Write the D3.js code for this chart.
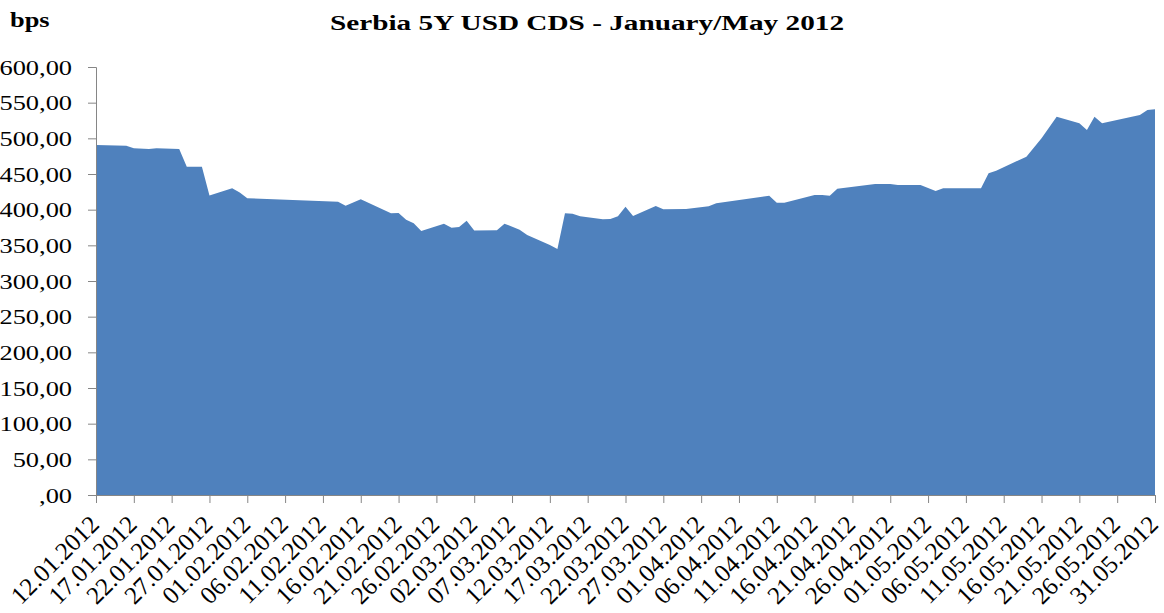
<!DOCTYPE html>
<meta charset="utf-8">
<style>
body { margin: 0; background: #fff; }
text { font-family: "Liberation Serif", "Times New Roman", serif; fill: #000; }
.axis path, .axis line { stroke: #868686; }
.title { font-weight: bold; font-size: 22px; }
.unit { font-weight: bold; font-size: 22px; }
.y.axis text { font-size: 22px; }
.x.axis text { font-size: 25px; }
</style>
<svg width="1164" height="613"></svg>
<script src="https://d3js.org/d3.v7.min.js"></script>
<script>

// daily 5Y CDS quotes (bps)
var dates = ["12.01.2012","16.01.2012","17.01.2012","19.01.2012","20.01.2012","23.01.2012",
  "24.01.2012","26.01.2012","27.01.2012","30.01.2012","31.01.2012","01.02.2012","13.02.2012",
  "14.02.2012","16.02.2012","20.02.2012","21.02.2012","22.02.2012","23.02.2012","24.02.2012",
  "27.02.2012","28.02.2012","29.02.2012","01.03.2012","02.03.2012","05.03.2012","06.03.2012",
  "08.03.2012","09.03.2012","12.03.2012","13.03.2012","14.03.2012","15.03.2012","16.03.2012",
  "19.03.2012","20.03.2012","21.03.2012","22.03.2012","23.03.2012","26.03.2012","27.03.2012",
  "30.03.2012","02.04.2012","03.04.2012","10.04.2012","11.04.2012","12.04.2012","16.04.2012",
  "17.04.2012","18.04.2012","19.04.2012","24.04.2012","26.04.2012","27.04.2012","30.04.2012",
  "02.05.2012","03.05.2012","08.05.2012","09.05.2012","10.05.2012","14.05.2012","16.05.2012",
  "18.05.2012","21.05.2012","22.05.2012","23.05.2012","24.05.2012","29.05.2012","30.05.2012",
  "31.05.2012"];

var values = [490.5, 489.7, 486, 485, 486, 485,
  460, 460, 420, 430, 424, 416, 411,
  405.5, 414.5, 395, 395.3, 386, 381, 370,
  380.4, 374.8, 375.7, 384.6, 370.8, 371, 380.4,
  372, 364.5, 350.5, 345, 395, 394.4, 390.7,
  386.5, 387, 390.7, 404.2, 391, 405.2, 400.5,
  401, 404.7, 409, 419.6, 409.8, 409.8, 420.6,
  420.6, 419.6, 429.4, 436, 436, 434.6, 434.6,
  426.2, 430, 430, 451, 454.7, 474.3, 500,
  530.4, 521, 511.7, 530.4, 521, 532.7, 539.7,
  540.7];

var yTicks = [0, 50, 100, 150, 200, 250, 300, 350, 400, 450, 500, 550, 600];
var tickStepDays = 5;

var title = "Serbia 5Y USD CDS - January/May 2012";
var unit = "bps";

// the source picture is stretched sideways, so the flat texts are too
var stretch = 1.2,
    titleStretch = 1.33;

var svg = d3.select("svg"),
    margin = {top: 67, right: 9, bottom: 118, left: 96},
    width = +svg.attr("width") - margin.left - margin.right,
    height = +svg.attr("height") - margin.top - margin.bottom;

var parseDate = d3.timeParse("%d.%m.%Y");
var data = dates.map(function(d, i) { return {date: parseDate(d), value: values[i]}; });

var x = d3.scaleTime()
    .domain(d3.extent(data, function(d) { return d.date; }))
    .range([0, width]);

var y = d3.scaleLinear()
    .domain([0, 600])
    .range([height, 0]);

var xTicks = d3.timeDay.every(1).range(x.domain()[0], d3.timeDay.offset(x.domain()[1], 1))
    .filter(function(d, i) { return i % tickStepDays === 0; });

var locale = d3.formatLocale({decimal: ",", thousands: ".", grouping: [3], currency: ["", ""]});
var fmt = locale.format(".2f");

var g = svg.append("g")
    .attr("transform", "translate(" + margin.left + "," + margin.top + ")");

var area = d3.area()
    .x(function(d) { return x(d.date); })
    .y0(y(0))
    .y1(function(d) { return y(d.value); });

g.append("path")
    .datum(data)
    .attr("fill", "#4f81bd")
    .attr("d", area);

var yAxis = g.append("g")
    .attr("class", "y axis")
    .call(d3.axisLeft(y).tickValues(yTicks).tickSizeOuter(0).tickSize(8)
      .tickFormat(function(d) { return fmt(d).replace(/^0,/, ","); }));

yAxis.selectAll("text")
    .attr("x", -24 / stretch)
    .attr("transform", "scale(" + stretch + ",1)");

var xAxis = g.append("g")
    .attr("class", "x axis")
    .attr("transform", "translate(0," + height + ")")
    .call(d3.axisBottom(x).tickValues(xTicks).tickSizeOuter(0).tickSize(8)
      .tickFormat(d3.timeFormat("%d.%m.%Y")));

xAxis.selectAll("text")
    .attr("text-anchor", "end")
    .attr("dy", 0)
    .attr("x", 0)
    .attr("y", 0)
    .attr("transform", "translate(4,31) rotate(-45)");

svg.append("text")
    .attr("class", "title")
    .attr("transform", "translate(587,30) scale(" + titleStretch + ",1)")
    .attr("text-anchor", "middle")
    .text(title);

svg.append("text")
    .attr("class", "unit")
    .attr("transform", "translate(10,27) scale(" + stretch + ",1)")
    .text(unit);

</script>
